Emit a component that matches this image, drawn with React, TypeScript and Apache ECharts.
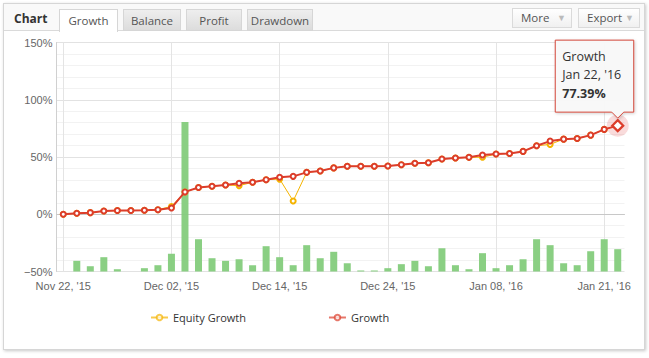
import React, { useEffect, useRef } from "react";
import * as echarts from "echarts";

const categories = [
  "Nov 22, '15", "Nov 23, '15", "Nov 24, '15", "Nov 25, '15", "Nov 26, '15", "Nov 27, '15",
  "Nov 30, '15", "Dec 01, '15", "Dec 02, '15", "Dec 03, '15", "Dec 04, '15", "Dec 07, '15",
  "Dec 08, '15", "Dec 09, '15", "Dec 10, '15", "Dec 11, '15", "Dec 14, '15", "Dec 15, '15",
  "Dec 16, '15", "Dec 17, '15", "Dec 18, '15", "Dec 21, '15", "Dec 22, '15", "Dec 23, '15",
  "Dec 24, '15", "Dec 28, '15", "Dec 29, '15", "Dec 30, '15", "Dec 31, '15", "Jan 04, '16",
  "Jan 05, '16", "Jan 06, '16", "Jan 08, '16", "Jan 11, '16", "Jan 12, '16", "Jan 13, '16",
  "Jan 14, '16", "Jan 15, '16", "Jan 18, '16", "Jan 19, '16", "Jan 21, '16", "Jan 22, '16",
];

const growth = [
  0, 0.8, 1.4, 2.9, 3.2, 3.2, 3.5, 4.0, 5.5, 19.5, 23.3, 24.5, 25.6, 27.0, 27.9, 30.2,
  32.3, 33.1, 36.6, 37.8, 40.5, 41.9, 41.9, 41.9, 42.1, 43.3, 44.5, 45.0, 48.2, 49.1,
  49.7, 51.7, 52.6, 53.1, 54.9, 59.8, 63.9, 65.6, 66.2, 69.1, 74.1, 77.39,
];

const equityGrowth = [
  0, 0.8, 1.4, 2.9, 3.2, 3.2, 3.5, 4.0, 6.8, 19.5, 23.3, 24.5, 25.6, 25.0, 27.9, 30.2,
  30.7, 11.6, 36.6, 37.8, 40.5, 41.9, 41.9, 41.9, 42.1, 43.3, 44.5, 45.0, 48.2, 49.1,
  49.7, 49.8, 52.6, 53.1, 54.9, 59.8, 61.0, 65.6, 66.2, 69.1, 74.1, 77.39,
];

const dailyBars = [
  0, 9.3, 4.6, 12.5, 2, 0, 2.9, 5.5, 15.5, 130.5, 28.2, 11.6, 9.3, 10.7, 5.5, 22.1,
  12.5, 5.5, 23, 11.6, 17.2, 7.2, 0.9, 0.9, 2.9, 6.4, 9.3, 4.6, 20.3, 5.5,
  2, 16, 2.9, 5.5, 10.7, 28.2, 23, 7.2, 5.5, 17.7, 28.2, 19.5,
];

const yMin = -50;
const yMax = 150;
const yStep = 50;

const tabs = ["Growth", "Balance", "Profit", "Drawdown"];
const buttons = ["More", "Export"];

const RED = "#dc3d2b";
const ORANGE = "#f5b400";
const GREEN = "#84cc7c";

export default function App() {
  const ref = useRef<HTMLDivElement>(null);

  useEffect(() => {
    const chart = echarts.init(ref.current!, undefined, { renderer: "svg" });
    const last = categories.length - 1;
    const growthData: any[] = growth.map((v, i) =>
      i === last
        ? {
            value: v,
            symbol: "diamond",
            symbolSize: 11,
            itemStyle: { color: "#fff", borderColor: RED, borderWidth: 2.2 },
          }
        : v
    );
    const option: any = {
      animation: false,
      textStyle: { fontFamily: "Liberation Sans" },
      grid: { left: 56.5, top: 42.5, width: 568, height: 229, containLabel: false },
      legend: {
        data: ["Equity Growth", "Growth"],
        left: 145,
        top: 307,
        itemWidth: 17,
        itemHeight: 7,
        itemGap: 82,
        itemStyle: { opacity: 0.7 },
        lineStyle: { opacity: 0.7 },
        textStyle: { fontFamily: "Open Sans", fontSize: 11, color: "#333" },
      },
      xAxis: {
        type: "category",
        data: categories,
        boundaryGap: true,
        axisLine: { show: true, lineStyle: { color: "#c8c8c8" } },
        axisTick: { show: false },
        axisLabel: {
          interval: 7,
          margin: 9,
          color: "#666",
          fontSize: 11,
          fontFamily: "Liberation Sans",
        },
        splitLine: {
          show: true,
          interval: 7,
          alignWithLabel: true,
          lineStyle: { color: "#e4e4e4" },
        },
      },
      yAxis: [
        {
          type: "value",
          min: yMin,
          max: yMax,
          interval: yStep,
          axisLine: { show: true, lineStyle: { color: "#d0d0d0" } },
          axisTick: { show: false },
          axisLabel: {
            color: "#666",
            fontSize: 11,
            margin: 4,
            fontFamily: "Liberation Sans",
            formatter: (v: number) => (v < 0 ? "\u2212" + Math.abs(v) : String(v)) + "%",
          },
          splitLine: { show: true, lineStyle: { color: "#e2e2e2" } },
          minorTick: { show: false, splitNumber: 5 },
          minorSplitLine: { show: true, lineStyle: { color: "#f2f2f2" } },
        },
        {
          type: "value",
          min: 0,
          max: yMax - yMin,
          show: false,
          splitLine: { show: false },
        },
      ],
      series: [
        {
          name: "Daily",
          type: "bar",
          yAxisIndex: 1,
          data: dailyBars,
          barWidth: 7,
          itemStyle: { color: GREEN, opacity: 0.95 },
          z: 1,
        },
        {
          name: "Equity Growth",
          type: "line",
          data: equityGrowth,
          symbol: "emptyCircle",
          symbolSize: 5,
          lineStyle: { color: ORANGE, width: 1 },
          itemStyle: { color: ORANGE, borderWidth: 1.2 },
          z: 2,
        },
        {
          name: "Halo",
          type: "scatter",
          data: [[last, growth[last]]],
          symbolSize: 22,
          itemStyle: { color: "rgba(228,96,96,0.28)" },
          silent: true,
          z: 2.5,
        },
        {
          name: "Growth",
          type: "line",
          data: growthData,
          symbol: "emptyCircle",
          symbolSize: 5,
          lineStyle: { color: RED, width: 2 },
          itemStyle: { color: RED, borderWidth: 1.3 },
          z: 3,
        },
      ],
    };
    chart.setOption(option);

    const [px, py] = chart.convertToPixel({ xAxisIndex: 0, yAxisIndex: 0 }, [last, growth[last]]) as number[];
    const l = px - 62.5;
    const r = px + 16;
    const t = py - 85.5;
    const b = py - 13.5;
    const tip = py - 7.5;
    chart.setOption({
      graphic: [
        {
          type: "polygon",
          z: 100,
          shape: {
            points: [
              [l, t], [r, t], [r, b], [px + 6, b], [px, tip], [px - 6, b], [l, b],
            ],
          },
          style: {
            fill: "rgba(249,249,249,0.95)",
            stroke: "#d2473a",
            lineWidth: 1,
            shadowBlur: 3,
            shadowColor: "rgba(0,0,0,0.18)",
            shadowOffsetX: 1,
            shadowOffsetY: 1,
          },
        },
        {
          type: "text",
          z: 101,
          x: l + 7,
          y: t + 16,
          style: {
            text: "Growth",
            fill: "#333",
            font: "12.5px 'Open Sans'",
            textVerticalAlign: "middle",
          },
        },
        {
          type: "text",
          z: 101,
          x: l + 7,
          y: t + 34.5,
          style: {
            text: categories[last],
            fill: "#333",
            font: "12.5px 'Open Sans'",
            textVerticalAlign: "middle",
          },
        },
        {
          type: "text",
          z: 101,
          x: l + 7,
          y: t + 53,
          style: {
            text: growth[last].toFixed(2) + "%",
            fill: "#333",
            font: "bold 12.5px 'Open Sans'",
            textVerticalAlign: "middle",
          },
        },
      ],
    });
    return () => chart.dispose();
  }, []);

  const tabPos = [
    { left: 59, width: 59 },
    { left: 123, width: 58 },
    { left: 186, width: 56 },
    { left: 247, width: 66 },
  ];
  const btnPos = [
    { left: 512, width: 60 },
    { left: 578, width: 62 },
  ];

  return (
    <div
      style={{
        position: "fixed",
        left: 0,
        top: 0,
        width: 649,
        height: 358,
        background: "#fff",
        fontFamily: "'Open Sans', sans-serif",
        overflow: "hidden",
      }}
    >
      <div
        style={{
          position: "absolute",
          left: 3,
          top: 3,
          width: 642,
          height: 347,
          boxSizing: "border-box",
          border: "1px solid #d6d6d6",
          boxShadow: "1px 1px 3px rgba(0,0,0,0.22)",
          background: "#fff",
        }}
      />
      <div
        style={{
          position: "absolute",
          left: 4,
          top: 4,
          width: 640,
          height: 27,
          boxSizing: "border-box",
          background: "#f9f9f9",
          borderBottom: "1px solid #dadada",
        }}
      />
      <div
        style={{
          position: "absolute",
          left: 14,
          top: 9,
          fontSize: 12,
          fontWeight: "bold",
          color: "#333",
          lineHeight: "20px",
        }}
      >
        Chart
      </div>
      {tabs.map((t, i) => (
        <div
          key={t}
          style={{
            position: "absolute",
            left: tabPos[i].left,
            top: 9,
            width: tabPos[i].width,
            height: i === 0 ? 23 : 22,
            boxSizing: "border-box",
            border: "1px solid #d6d6d6",
            borderBottom: i === 0 ? "none" : "1px solid #d6d6d6",
            background: i === 0 ? "#fff" : "linear-gradient(#eeeeee, #dcdcdc)",
            color: "#555",
            fontSize: 11.5,
            textAlign: "center",
            lineHeight: "21px",
          }}
        >
          {t}
        </div>
      ))}
      {buttons.map((t, i) => (
        <div
          key={t}
          style={{
            position: "absolute",
            left: btnPos[i].left,
            top: 8,
            width: btnPos[i].width,
            height: 20,
            boxSizing: "border-box",
            border: "1px solid #dadada",
            background: "linear-gradient(#ffffff, #f0f0f0)",
            color: "#555",
            fontSize: 11.5,
            lineHeight: "18px",
            paddingLeft: 8,
          }}
        >
          {t}
          <span
            style={{
              position: "absolute",
              right: 5,
              top: 0,
              fontSize: 9,
              color: "#bbb",
            }}
          >
            ▼
          </span>
        </div>
      ))}
      <div
        ref={ref}
        style={{ position: "absolute", left: 0, top: 0, width: 649, height: 358 }}
      />
    </div>
  );
}
